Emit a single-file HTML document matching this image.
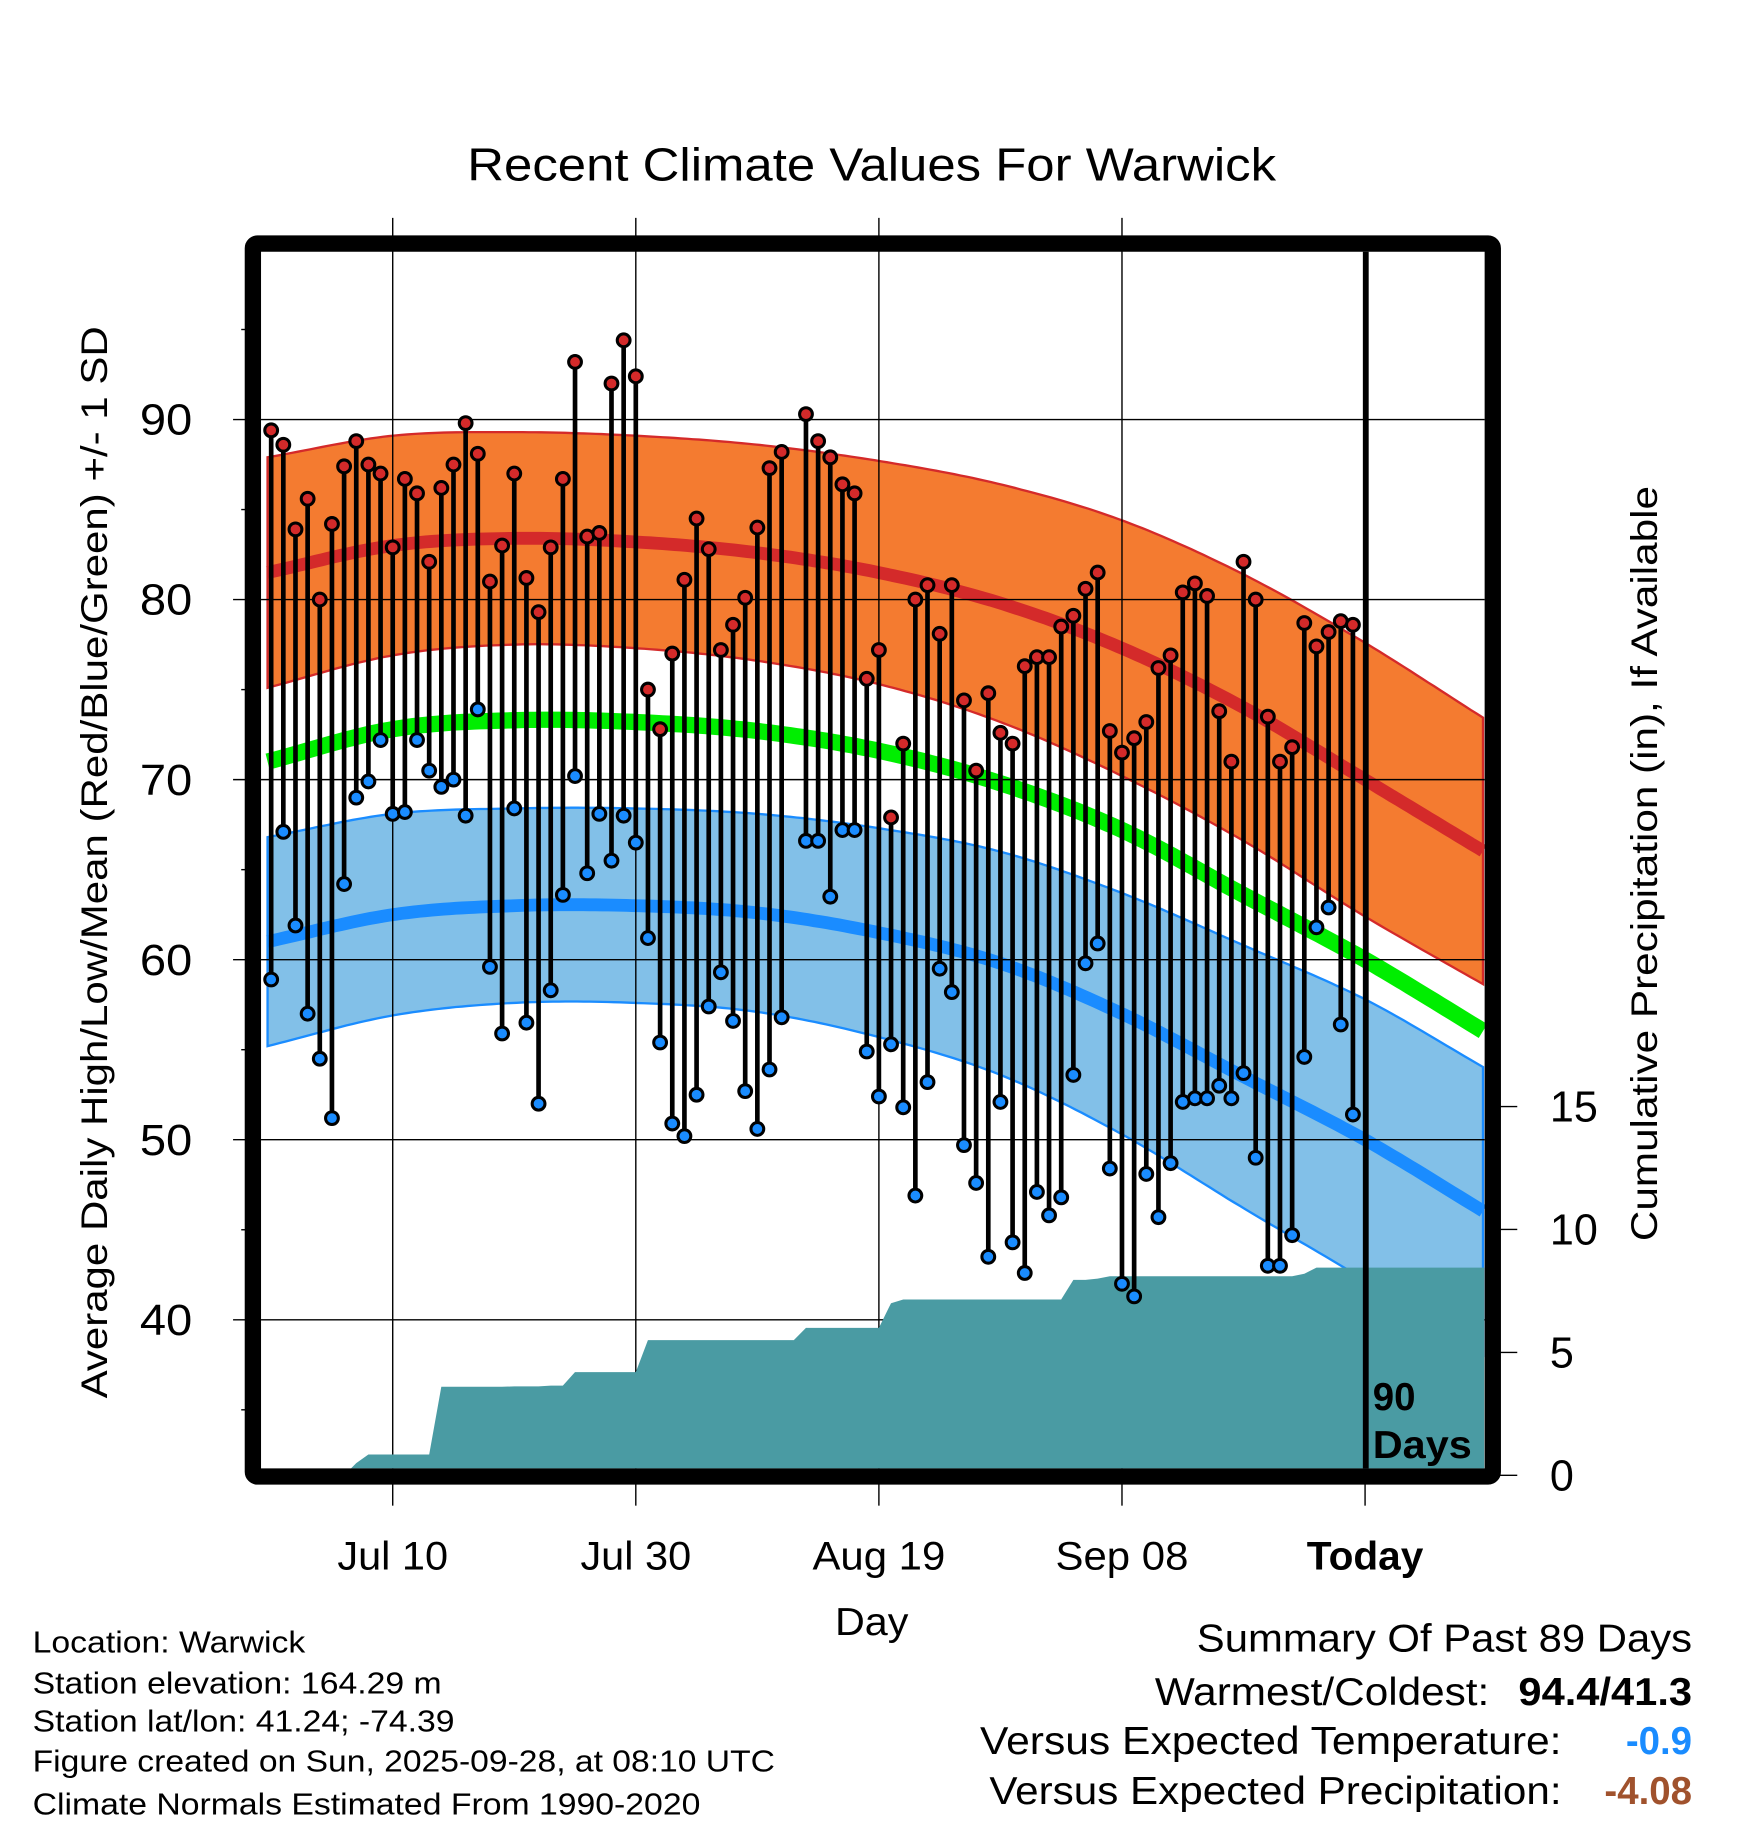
<!DOCTYPE html>
<html><head><meta charset="utf-8"><style>
html,body{margin:0;padding:0;background:#fff}
svg{display:block}
text{font-family:"Liberation Sans",sans-serif;fill:#000}
</style></head><body>
<svg id="chart" width="1748" height="1828" viewBox="0 0 1500 1568.6" preserveAspectRatio="none" xmlns="http://www.w3.org/2000/svg">
<defs><clipPath id="pc"><rect x="224" y="216" width="1050" height="1044"/></clipPath></defs>
<text x="748" y="155" font-size="40" text-anchor="middle" textLength="694" lengthAdjust="spacingAndGlyphs">Recent Climate Values For Warwick</text>
<g id="bands" clip-path="url(#pc)"></g>
<g id="grid"></g>
<g id="precip" clip-path="url(#pc)"></g>
<g id="marks" clip-path="url(#pc)"></g>
<line x1="1172" y1="216" x2="1172" y2="1260" stroke="#000" stroke-width="5"/>
<rect x="217" y="209" width="1064" height="1058" fill="none" stroke="#000" stroke-width="14" rx="4"/>
<text x="1178" y="1210" font-size="33" font-weight="bold">90</text>
<text x="1178" y="1251" font-size="33" font-weight="bold" textLength="85" lengthAdjust="spacingAndGlyphs">Days</text>
<g id="axes"></g>
<text transform="translate(92,740) rotate(-90)" font-size="32" text-anchor="middle" textLength="920" lengthAdjust="spacingAndGlyphs">Average Daily High/Low/Mean (Red/Blue/Green) +/- 1 SD</text>
<text transform="translate(1422,741) rotate(-90)" font-size="32" text-anchor="middle" textLength="648" lengthAdjust="spacingAndGlyphs">Cumulative Precipitation (in), If Available</text>
<text x="748" y="1403" font-size="33" text-anchor="middle" textLength="63" lengthAdjust="spacingAndGlyphs">Day</text>
<g font-size="26">
<text x="28" y="1418" textLength="234" lengthAdjust="spacingAndGlyphs">Location: Warwick</text>
<text x="28" y="1453" textLength="351" lengthAdjust="spacingAndGlyphs">Station elevation: 164.29 m</text>
<text x="28" y="1486" textLength="362" lengthAdjust="spacingAndGlyphs">Station lat/lon: 41.24; -74.39</text>
<text x="28" y="1520" textLength="637" lengthAdjust="spacingAndGlyphs">Figure created on Sun, 2025-09-28, at 08:10 UTC</text>
<text x="28" y="1557" textLength="573" lengthAdjust="spacingAndGlyphs">Climate Normals Estimated From 1990-2020</text>
</g>
<g font-size="33">
<text x="1027" y="1417" textLength="425" lengthAdjust="spacingAndGlyphs">Summary Of Past 89 Days</text>
<text x="991" y="1463" textLength="287" lengthAdjust="spacingAndGlyphs">Warmest/Coldest:</text>
<text x="1303" y="1463" font-weight="bold" textLength="149" lengthAdjust="spacingAndGlyphs">94.4/41.3</text>
<text x="841" y="1505" textLength="499" lengthAdjust="spacingAndGlyphs">Versus Expected Temperature:</text>
<text x="1452" y="1505" text-anchor="end" font-weight="bold" style="fill:#1a8cff">-0.9</text>
<text x="849" y="1548" textLength="491" lengthAdjust="spacingAndGlyphs">Versus Expected Precipitation:</text>
<text x="1452" y="1548" text-anchor="end" font-weight="bold" style="fill:#a0522d">-4.08</text>
</g>
</svg>
<script>
// Normals sampled at day offsets (day 0 = Jul 10)
const normDays = [-10.3,0,10,20,30,40,50,60,70,80,89.8];
const highNorm = [81.5,83,83.4,83.2,82.6,81.5,79.8,77.3,74,70,66];
const highSd   = [6.4,6.1,5.9,5.9,6,6.2,6.6,7.1,7.4,7.6,7.4];
const meanNorm = [71,72.8,73.3,73.2,72.7,71.6,69.8,67.2,63.6,60,56];
const lowNorm  = [61,62.5,63,63,62.6,61.5,59.8,57,53.5,50,46];
const lowSd    = [5.8,5.6,5.4,5.4,5.5,5.8,6.2,6.7,7.3,7.8,8];
const highs = [89.4,88.6,83.9,85.6,80.0,84.2,87.4,88.8,87.5,87.0,82.9,86.7,85.9,82.1,86.2,87.5,89.8,88.1,81.0,83.0,87.0,81.2,79.3,82.9,86.7,93.2,83.5,83.7,92.0,94.4,92.4,75.0,72.8,77.0,81.1,84.5,82.8,77.2,78.6,80.1,84.0,87.3,88.2,null,90.3,88.8,87.9,86.4,85.9,75.6,77.2,67.9,72.0,80.0,80.8,78.1,80.8,74.4,70.5,74.8,72.6,72.0,76.3,76.8,76.8,78.5,79.1,80.6,81.5,72.7,71.5,72.3,73.2,76.2,76.9,80.4,80.9,80.2,73.8,71.0,82.1,80.0,73.5,71.0,71.8,78.7,77.4,78.2,78.8,78.6];
const lows = [58.9,67.1,61.9,57.0,54.5,51.2,64.2,69.0,69.9,72.2,68.1,68.2,72.2,70.5,69.6,70.0,68.0,73.9,59.6,55.9,68.4,56.5,52.0,58.3,63.6,70.2,64.8,68.1,65.5,68.0,66.5,61.2,55.4,50.9,50.2,52.5,57.4,59.3,56.6,52.7,50.6,53.9,56.8,null,66.6,66.6,63.5,67.2,67.2,54.9,52.4,55.3,51.8,46.9,53.2,59.5,58.2,49.7,47.6,43.5,52.1,44.3,42.6,47.1,45.8,46.8,53.6,59.8,60.9,48.4,42.0,41.3,48.1,45.7,48.7,52.1,52.3,52.3,53.0,52.3,53.7,49.0,43.0,43.0,44.7,54.6,61.8,62.9,56.4,51.4];
const precip = [0,0,0,0,0,0,0,0.5,0.85,0.85,0.85,0.85,0.85,0.85,3.6,3.6,3.6,3.6,3.6,3.6,3.62,3.62,3.62,3.65,3.65,4.2,4.2,4.2,4.2,4.2,4.2,5.5,5.5,5.5,5.5,5.5,5.5,5.5,5.5,5.5,5.5,5.5,5.5,5.5,6.0,6.0,6.0,6.0,6.0,6.0,6.0,7.0,7.15,7.15,7.15,7.15,7.15,7.15,7.15,7.15,7.15,7.15,7.15,7.15,7.15,7.15,7.95,7.95,8.0,8.1,8.1,8.1,8.1,8.1,8.1,8.1,8.1,8.1,8.1,8.1,8.1,8.1,8.1,8.1,8.1,8.2,8.45,8.45,8.45,8.45];
const xTickLabels = ["Jul 10","Jul 30","Aug 19","Sep 08","Today"];
const xTickDays = [0,20,40,60,80];
const yTicks = [40,50,60,70,80,90];
const pTicks = [0,5,10,15];
const xLabelWidths = [95,95,114,114,100];

const NS='http://www.w3.org/2000/svg';
const X = d => 337 + d*10.43;
const Y = v => 360 + (90-v)*15.45;
const P = p => 1266 - p*21.1;
function el(tag, attrs, parent){const e=document.createElementNS(NS,tag);for(const k in attrs)e.setAttribute(k,attrs[k]);parent.appendChild(e);return e;}
function interp(arr,d){const n=normDays.length;let i=0;while(i<n-2&&d>normDays[i+1])i++;
const t=Math.max(0,Math.min(1,(d-normDays[i])/(normDays[i+1]-normDays[i])));
const p0=arr[Math.max(0,i-1)],p1=arr[i],p2=arr[i+1],p3=arr[Math.min(n-1,i+2)];
if(i===0){const q=2*p1-p2;return cr(q,p1,p2,p3,t);} if(i===n-2){const q=2*p2-p1;return cr(p0,p1,p2,q,t);}
return cr(p0,p1,p2,p3,t);}
function cr(p0,p1,p2,p3,t){return 0.5*((2*p1)+(-p0+p2)*t+(2*p0-5*p1+4*p2-p3)*t*t+(-p0+3*p1-3*p2+p3)*t*t*t);}
const sd=[];for(let d=-10.3;d<=89.81;d+=0.5)sd.push(d);
function line(f){return sd.map(d=>X(d).toFixed(1)+','+Y(f(d)).toFixed(1)).join(' ');}
function band(fu,fl){return line(fu)+' '+sd.slice().reverse().map(d=>X(d).toFixed(1)+','+Y(fl(d)).toFixed(1)).join(' ');}
const bands=document.getElementById('bands');
let e;
e=el('polygon',{points:band(d=>interp(highNorm,d)+interp(highSd,d),d=>interp(highNorm,d)-interp(highSd,d)),fill:'#f47b30',stroke:'#d42a2a','stroke-width':2},bands);


e=el('polyline',{points:line(d=>interp(highNorm,d)),fill:'none',stroke:'#d42a2a','stroke-width':11},bands);


e=el('polygon',{points:band(d=>interp(lowNorm,d)+interp(lowSd,d),d=>interp(lowNorm,d)-interp(lowSd,d)),fill:'#82c0e8',stroke:'#1a8cff','stroke-width':2},bands);


e=el('polyline',{points:line(d=>interp(lowNorm,d)),fill:'none',stroke:'#1a8cff','stroke-width':11},bands);


e=el('polyline',{points:line(d=>interp(meanNorm,d)),fill:'none',stroke:'#00ee00','stroke-width':14},bands);



const grid=document.getElementById('grid');
yTicks.forEach(v=>{e=el('line',{x1:224,x2:1274,y1:Y(v),y2:Y(v),stroke:'#000','stroke-width':1.2},grid);

});
xTickDays.slice(0,4).forEach(d=>{e=el('line',{x1:X(d),x2:X(d),y1:187,y2:1260,stroke:'#000','stroke-width':1.2},grid);

});

const pg=document.getElementById('precip');
let pts=precip.map((p,i)=>X(i-10).toFixed(1)+','+P(p).toFixed(1));
pts.push(X(89.8)+','+P(precip[precip.length-1]));
e=el('polygon',{points:X(-10)+','+P(0)+' '+pts.join(' ')+' '+X(89.8)+','+P(0)+' '+X(89.8)+',1270 '+X(-10)+',1270',fill:'#4a9ba3'},pg);



const mg=document.getElementById('marks');
highs.forEach((h,i)=>{const l=lows[i];if(h==null||l==null)return;const x=X(i-10);
e=el('line',{x1:x,x2:x,y1:Y(h),y2:Y(l),stroke:'#000','stroke-width':4},mg);

});
highs.forEach((h,i)=>{const l=lows[i];if(h==null||l==null)return;const x=X(i-10);
e=el('circle',{cx:x,cy:Y(h),r:5.5,fill:'#d42a2a',stroke:'#000','stroke-width':2.6},mg);


e=el('circle',{cx:x,cy:Y(l),r:5.5,fill:'#1a8cff',stroke:'#000','stroke-width':2.6},mg);

});

const ax=document.getElementById('axes');
for(let v=35;v<=95;v+=5){const major=v%10===0;
e=el('line',{x1:major?200:207,x2:217,y1:Y(v),y2:Y(v),stroke:'#000','stroke-width':1.2},ax);

}
yTicks.forEach(v=>{e=el('text',{x:165,y:Y(v)+13,'font-size':37,'text-anchor':'end',textLength:45,lengthAdjust:'spacingAndGlyphs'},ax);e.textContent=v;

});
pTicks.forEach(p=>{e=el('line',{x1:1281,x2:1302,y1:P(p),y2:P(p),stroke:'#000','stroke-width':1.2},ax);


e=el('text',{x:1330,y:P(p)+13,'font-size':37},ax);e.textContent=p;

});
xTickDays.forEach((d,i)=>{e=el('line',{x1:X(d),x2:X(d),y1:1272,y2:1292,stroke:'#000','stroke-width':1.2},ax);


e=el('text',{x:X(d),y:1347,'font-size':34,'text-anchor':'middle',textLength:xLabelWidths[i],lengthAdjust:'spacingAndGlyphs'},ax);e.textContent=xTickLabels[i];
if(xTickLabels[i]==='Today')e.setAttribute('font-weight','bold');

});
</script>
</body></html>
